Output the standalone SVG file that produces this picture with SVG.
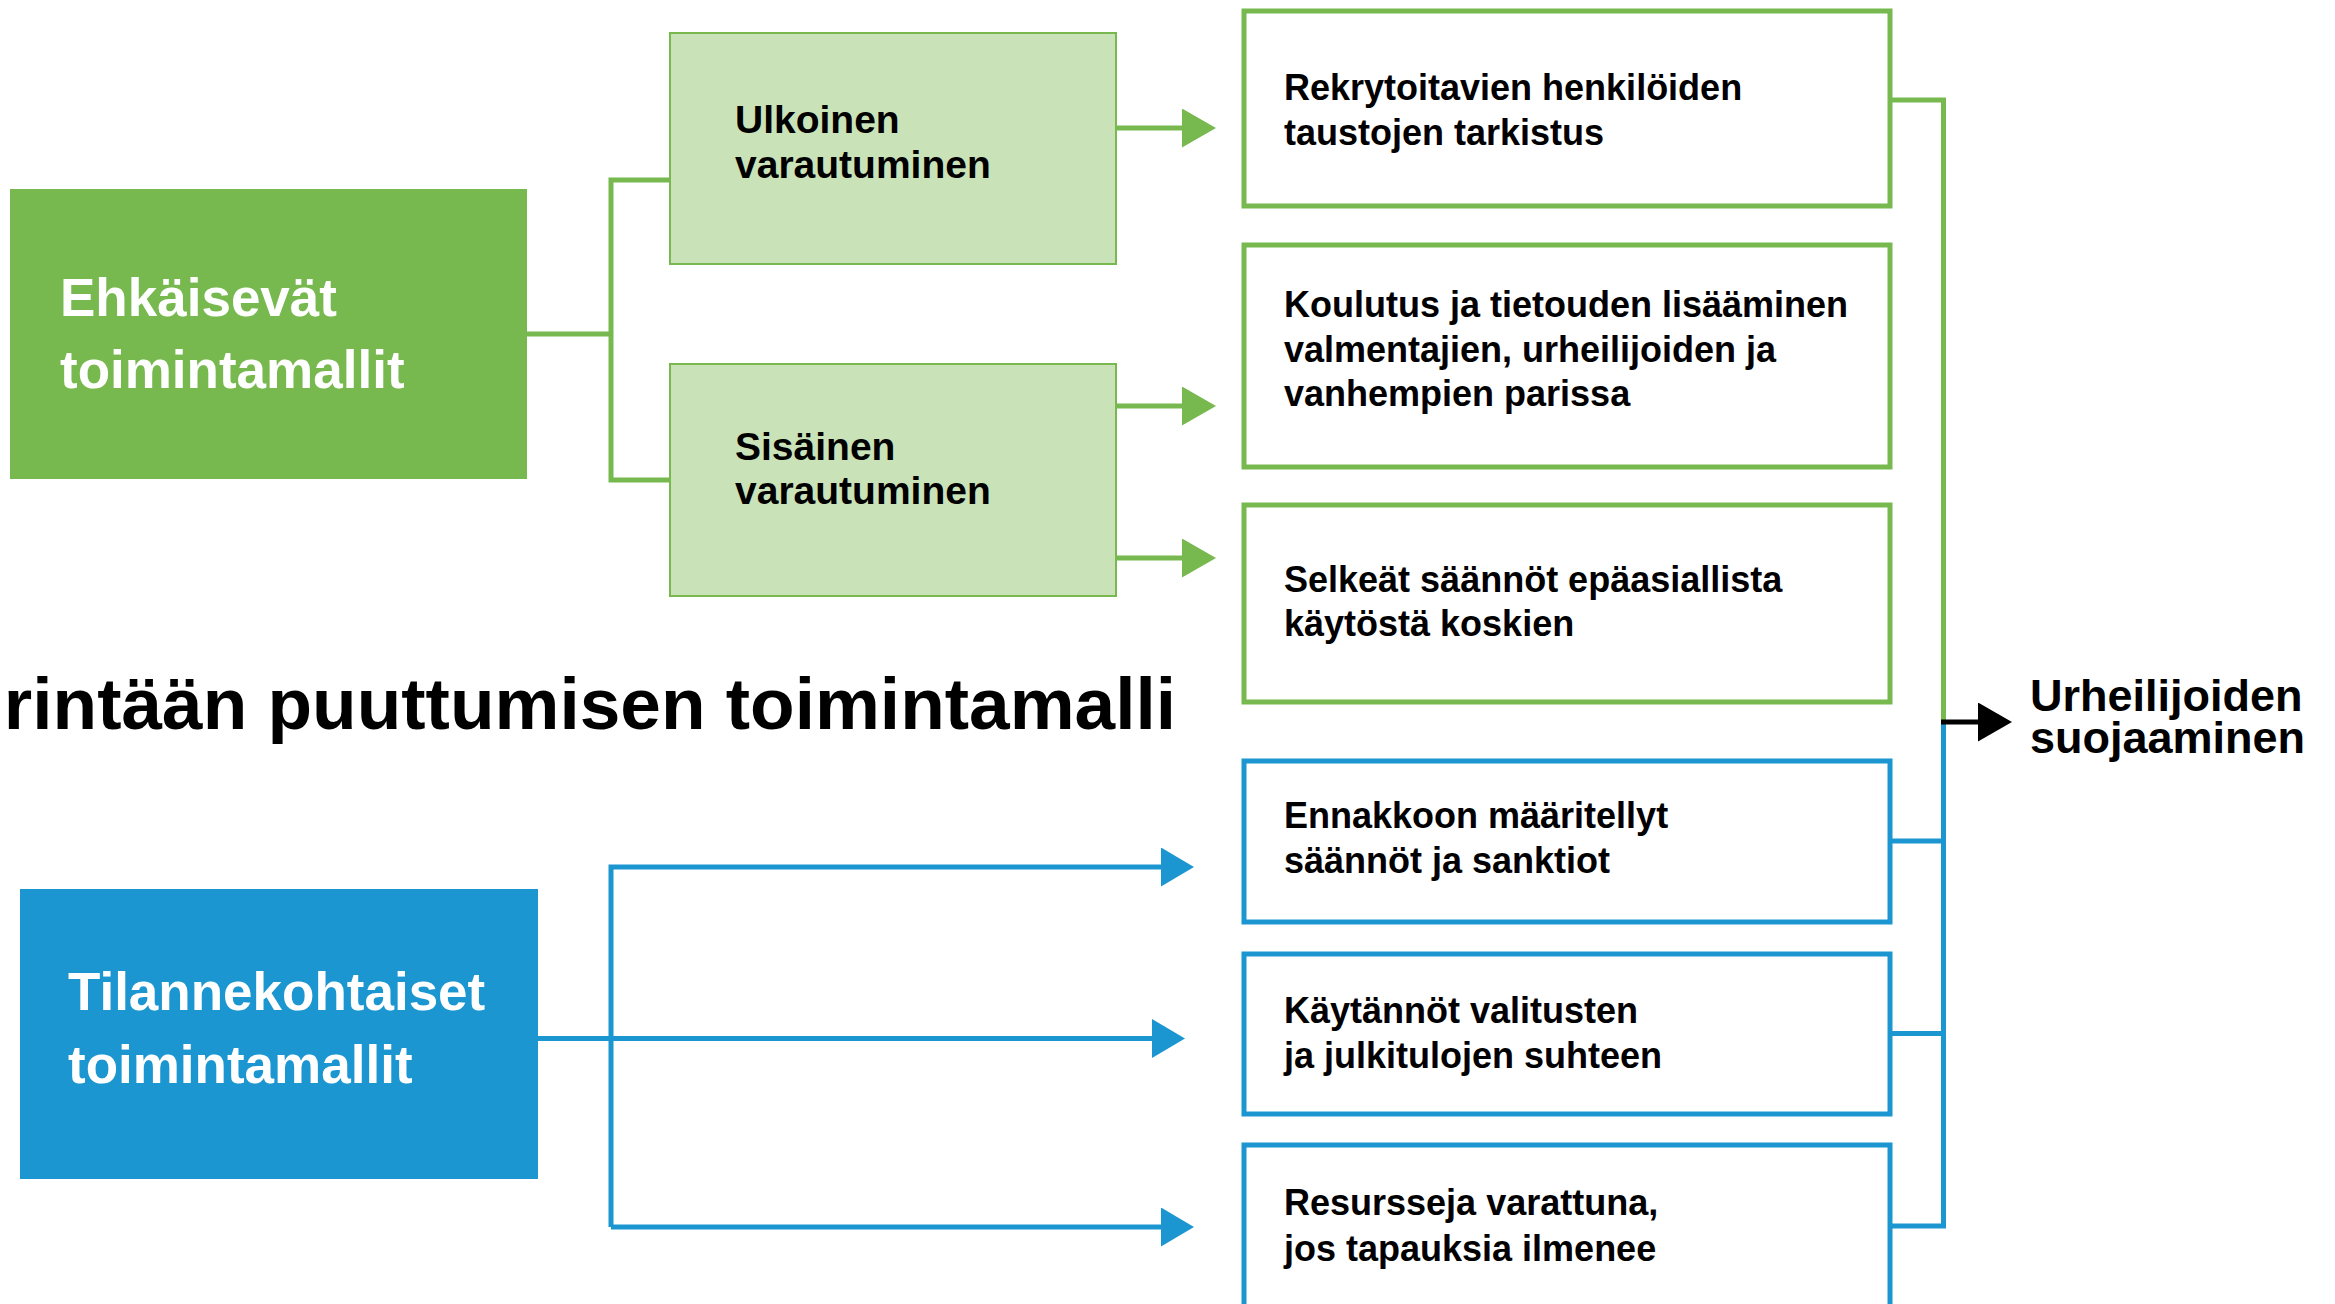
<svg xmlns="http://www.w3.org/2000/svg" width="2335" height="1304" viewBox="0 0 2335 1304">
<style>
text{font-family:"Liberation Sans",Arial,sans-serif;font-weight:bold;}
.main{fill:#fff;font-size:53px;}
.sub{fill:#000;font-size:39px;}
.item{fill:#000;font-size:36px;}
.title{fill:#000;font-size:73px;}
.out{fill:#000;font-size:45px;}
.gbox{fill:#fff;stroke:#77B94F;stroke-width:5;}
.bbox{fill:#fff;stroke:#1B96D1;stroke-width:5;}
.lg{fill:#C9E2B8;stroke:#77B94F;stroke-width:2;}
.gl{fill:none;stroke:#77B94F;stroke-width:5;}
.bl{fill:none;stroke:#1B96D1;stroke-width:5;}
.kl{fill:none;stroke:#000;stroke-width:5;}
</style>
<defs>
<marker id="ag" markerUnits="userSpaceOnUse" markerWidth="34" markerHeight="39" refX="0" refY="19.5" orient="auto" viewBox="0 0 34 39"><path d="M0,0 L34,19.5 L0,39 z" fill="#77B94F"/></marker>
<marker id="ab" markerUnits="userSpaceOnUse" markerWidth="33" markerHeight="39" refX="0" refY="19.5" orient="auto" viewBox="0 0 33 39"><path d="M0,0 L33,19.5 L0,39 z" fill="#1B96D1"/></marker>
<marker id="ak" markerUnits="userSpaceOnUse" markerWidth="34" markerHeight="39" refX="0" refY="19.5" orient="auto" viewBox="0 0 34 39"><path d="M0,0 L34,19.5 L0,39 z" fill="#000"/></marker>
</defs>
<rect width="2335" height="1304" fill="#fff"/>
<g id="connectors">
<path class="gl" d="M527,334 H611 M670,180 H611 V480 H670"/>
<path class="gl" d="M1116,128 H1182" marker-end="url(#ag)"/>
<path class="gl" d="M1116,406 H1182" marker-end="url(#ag)"/>
<path class="gl" d="M1116,558 H1182" marker-end="url(#ag)"/>
<path class="bl" d="M538,1038.5 H1152" marker-end="url(#ab)"/>
<path class="bl" d="M611,1227 V867 H1161" marker-end="url(#ab)"/>
<path class="bl" d="M611,1227 H1161" marker-end="url(#ab)"/>
<path class="gl" d="M1890,100 H1943.5 V722"/>
<path class="bl" d="M1943.5,722 V1226 H1890 M1890,841 H1943.5 M1890,1033.5 H1943.5"/>
<path class="kl" d="M1941,722 H1978" marker-end="url(#ak)"/>
</g>
<g id="ehkaisevat">
<rect x="10" y="189" width="517" height="290" fill="#77B94F"/>
<text class="main" x="60" y="316">Ehkäisevät</text>
<text class="main" x="60" y="388">toimintamallit</text>
</g>
<g id="ulkoinen">
<rect class="lg" x="670" y="33" width="446" height="231"/>
<text class="sub" x="735" y="133">Ulkoinen</text>
<text class="sub" x="735" y="178">varautuminen</text>
</g>
<g id="sisainen">
<rect class="lg" x="670" y="364" width="446" height="232"/>
<text class="sub" x="735" y="460">Sisäinen</text>
<text class="sub" x="735" y="504">varautuminen</text>
</g>
<g id="title">
<text class="title" x="1176" y="729" text-anchor="end">rintään puuttumisen toimintamalli</text>
</g>
<g id="tilannekohtaiset">
<rect x="20" y="889" width="518" height="290" fill="#1B96D1"/>
<text class="main" x="68" y="1010">Tilannekohtaiset</text>
<text class="main" x="68" y="1083">toimintamallit</text>
</g>
<g id="box1">
<rect class="gbox" x="1244" y="11" width="646" height="195"/>
<text class="item" x="1284" y="100">Rekrytoitavien henkilöiden</text>
<text class="item" x="1284" y="145">taustojen tarkistus</text>
</g>
<g id="box2">
<rect class="gbox" x="1244" y="245" width="646" height="222"/>
<text class="item" x="1284" y="317">Koulutus ja tietouden lisääminen</text>
<text class="item" x="1284" y="362">valmentajien, urheilijoiden ja</text>
<text class="item" x="1284" y="406">vanhempien parissa</text>
</g>
<g id="box3">
<rect class="gbox" x="1244" y="505" width="646" height="197"/>
<text class="item" x="1284" y="592">Selkeät säännöt epäasiallista</text>
<text class="item" x="1284" y="636">käytöstä koskien</text>
</g>
<g id="box4">
<rect class="bbox" x="1244" y="761" width="646" height="161"/>
<text class="item" x="1284" y="828">Ennakkoon määritellyt</text>
<text class="item" x="1284" y="873">säännöt ja sanktiot</text>
</g>
<g id="box5">
<rect class="bbox" x="1244" y="954" width="646" height="160"/>
<text class="item" x="1284" y="1023">Käytännöt valitusten</text>
<text class="item" x="1284" y="1068">ja julkitulojen suhteen</text>
</g>
<g id="box6">
<rect class="bbox" x="1244" y="1145" width="646" height="200"/>
<text class="item" x="1284" y="1215">Resursseja varattuna,</text>
<text class="item" x="1284" y="1261">jos tapauksia ilmenee</text>
</g>
<g id="urheilijoiden">
<text class="out" x="2030" y="711">Urheilijoiden</text>
<text class="out" x="2030" y="753">suojaaminen</text>
</g>
</svg>
